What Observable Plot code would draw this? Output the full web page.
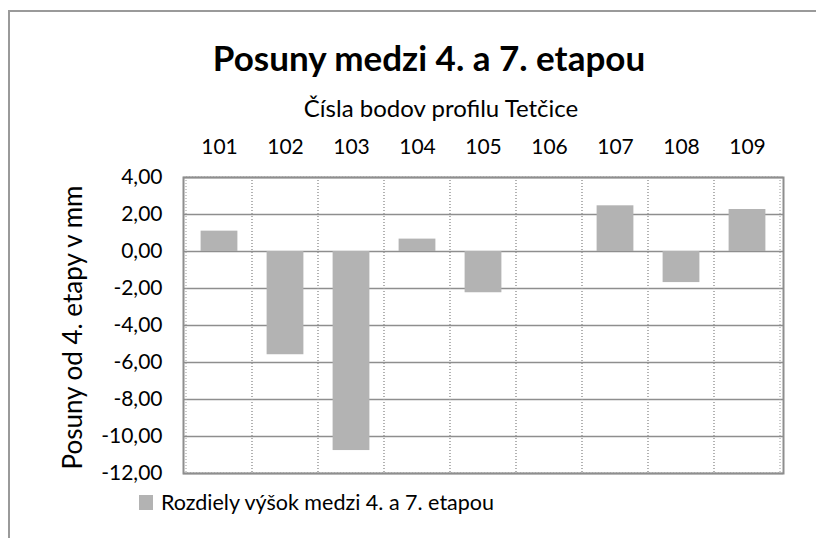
<!DOCTYPE html>
<html>
<head>
<meta charset="utf-8">
<script src="https://cdn.jsdelivr.net/npm/d3@7"></script>
<script src="https://cdn.jsdelivr.net/npm/@observablehq/plot@0.6"></script>
<style>
  html, body { margin: 0; padding: 0; background: #fff; }
  #chart { position: relative; width: 816px; height: 538px; background: #fff; overflow: hidden; font-family: Lato, "Open Sans", sans-serif; }
  #border { position: absolute; left: 8px; top: 10px; width: 900px; height: 700px; border-top: 2px solid #9a9a9a; border-left: 2px solid #9a9a9a; }
  #chart svg { position: absolute; left: 0; top: 0; }
</style>
</head>
<body>
<div id="chart"><div id="border"></div></div>
<script>
const categories = ["101", "102", "103", "104", "105", "106", "107", "108", "109"];
const values = [1.10, -5.58, -10.76, 0.67, -2.23, 0.00, 2.47, -1.68, 2.27];
const yTicks = [-12, -10, -8, -6, -4, -2, 0, 2, 4];

const titleText = "Posuny medzi 4. a 7. etapou";
const xAxisTitle = "Čísla bodov profilu Tetčice";
const yAxisTitle = "Posuny od 4. etapy v mm";
const legendText = "Rozdiely výšok medzi 4. a 7. etapou";

const barColor = "#b3b3b3";
const gridColor = "#8e8e8e";

const data = categories.map((c, i) => ({bod: c, posun: values[i]}));
const yMin = d3.min(yTicks), yMax = d3.max(yTicks);

const chart = Plot.plot({
  width: 816,
  height: 538,
  marginTop: 177,
  marginBottom: 65,
  marginLeft: 183,
  marginRight: 33,
  style: {fontFamily: "Lato, 'Open Sans', sans-serif", fontSize: "21px", color: "#000", background: "transparent", overflow: "visible"},
  x: {domain: categories, padding: 0, axis: "top", label: null, tickSize: 0, tickPadding: 24},
  y: {domain: [yMin, yMax], ticks: yTicks, tickFormat: d => d.toFixed(2).replace(".", ","), label: null, tickSize: 0, tickPadding: 21},
  marks: [
    Plot.ruleY(yTicks, {stroke: gridColor, strokeWidth: 1.5}),
    Plot.barY(categories, {x: d => d, y1: yMin, y2: yMax, fill: "none", stroke: "#999999", strokeWidth: 1, strokeDasharray: "1,2"}),
    Plot.barY(data, {x: "bod", y: "posun", fill: barColor, insetLeft: 14.6, insetRight: 14.6}),
    Plot.frame({stroke: gridColor, strokeWidth: 2})
  ]
});
document.getElementById("chart").appendChild(chart);

// text overlay: title, subtitle, y-axis title, legend
const ov = d3.select("#chart").append("svg")
  .attr("width", 816).attr("height", 538)
  .style("pointer-events", "none")
  .attr("font-family", "Lato, 'Open Sans', sans-serif")
  .attr("fill", "#000");

ov.append("text").attr("x", 429).attr("y", 71).attr("text-anchor", "middle")
  .attr("font-size", 35).attr("font-weight", "bold").text(titleText);
ov.append("text").attr("x", 441).attr("y", 117).attr("text-anchor", "middle")
  .attr("font-size", 24).text(xAxisTitle);
ov.append("text").attr("transform", "translate(82,327.5) rotate(-90)").attr("text-anchor", "middle")
  .attr("font-size", 26).text(yAxisTitle);
ov.append("rect").attr("x", 139).attr("y", 495).attr("width", 14).attr("height", 15).attr("fill", barColor);
ov.append("text").attr("x", 161).attr("y", 510)
  .attr("font-size", 21.5).text(legendText);
</script>
</body>
</html>
